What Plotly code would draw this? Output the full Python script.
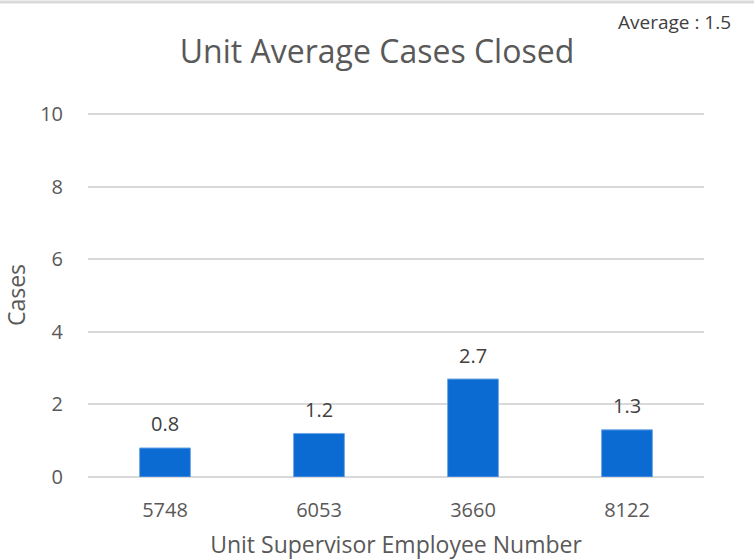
import plotly.graph_objects as go

supervisors = ["5748", "6053", "3660", "8122"]
avg_cases = [0.8, 1.2, 2.7, 1.3]
y_ticks = [0, 2, 4, 6, 8, 10]
average_label = "Average : 1.5"

FONT = "Open Sans"
PW, PH = 616, 364  # plot area size in px

fig = go.Figure(go.Bar(
    x=supervisors, y=avg_cases,
    marker=dict(color="#0B6BD3", line=dict(color="#6FA8E6", width=1)),
    hoverinfo="x+y",
))

value_labels = [dict(x=i, y=v, xref="x", yref="y", text=f"{v:.1f}", showarrow=False,
                     yanchor="middle", yshift=24,
                     font=dict(family=FONT, size=20, color="#404040"))
                for i, v in enumerate(avg_cases)]

fig.update_layout(
    width=754, height=560,
    margin=dict(l=88, r=50, t=113, b=83, autoexpand=False),
    paper_bgcolor="white", plot_bgcolor="white",
    bargap=0.67,
    showlegend=False,
    title=dict(text="Unit Average Cases Closed", x=0.5, xanchor="center",
               y=1 - 52/560, yanchor="middle",
               font=dict(family=FONT, size=32, color="#595959")),
    font=dict(family=FONT, color="#595959"),
    xaxis=dict(type="category", categoryorder="array", categoryarray=supervisors,
               range=[-0.5, len(supervisors) - 0.5],
               showgrid=False, zeroline=False, showline=False,
               automargin=False, ticks="", ticklabelstandoff=19,
               tickfont=dict(size=20, color="#595959"),
               title=dict(text="Unit Supervisor Employee Number", standoff=20,
                          font=dict(size=23, color="#595959"))),
    yaxis=dict(range=[0, 10.03], tickvals=y_ticks, showgrid=True, gridcolor="#D9D9D9",
               gridwidth=1.5, zeroline=True, zerolinecolor="#D9D9D9", zerolinewidth=1.5,
               showline=False, automargin=False, ticks="", ticklabelstandoff=24,
               tickfont=dict(size=20, color="#595959"),
               title=dict(text="Cases", standoff=18, font=dict(size=23, color="#595959"))),
    shapes=[dict(type="line", xref="paper", yref="paper", x0=-88/PW, x1=1 + 50/PW,
                 y0=1 + 111/PH, y1=1 + 111/PH, line=dict(color="#D9D9D9", width=3))],
    annotations=value_labels + [dict(text=average_label, xref="paper", yref="paper",
                      x=(733 - 88)/PW, y=1 + 91/PH, xanchor="right", yanchor="middle",
                      showarrow=False, font=dict(family=FONT, size=19, color="#404040"))],
)

fig.write_html("out.html", config={"displayModeBar": False},
               post_script="document.body.style.margin='0';document.body.style.padding='0';")
